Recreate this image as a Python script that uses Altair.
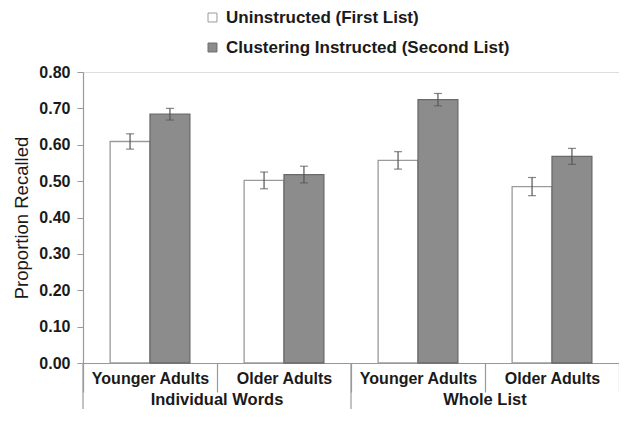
import altair as alt
import pandas as pd

# ---- data ----
outer_groups = ["Individual Words", "Individual Words", "Whole List", "Whole List"]
age_groups = ["Younger Adults", "Older Adults", "Younger Adults", "Older Adults"]
uninstructed = [0.609, 0.502, 0.557, 0.485]
uninstructed_err = [0.021, 0.023, 0.024, 0.025]
instructed = [0.684, 0.518, 0.724, 0.568]
instructed_err = [0.016, 0.023, 0.017, 0.022]
conditions = ["Uninstructed (First List)", "Clustering Instructed (Second List)"]
y_ticks = [0.0, 0.1, 0.2, 0.3, 0.4, 0.5, 0.6, 0.7, 0.8]

keys = [f"{o}|{a}" for o, a in zip(outer_groups, age_groups)]

rows = []
for k, v, e in zip(keys, uninstructed, uninstructed_err):
    rows.append({"key": k, "cond": conditions[0], "value": v, "lo": v - e, "hi": v + e})
for k, v, e in zip(keys, instructed, instructed_err):
    rows.append({"key": k, "cond": conditions[1], "value": v, "lo": v - e, "hi": v + e})
df = pd.DataFrame(rows)

outer_df = pd.DataFrame({
    "start": [keys[0], keys[2]],
    "label": [outer_groups[0], outer_groups[2]],
})

W = 536
H = 291
FONT = "Liberation Sans"

xscale = alt.Scale(domain=keys, paddingInner=0, paddingOuter=0)
offscale = alt.Scale(domain=conditions, paddingInner=0, paddingOuter=0.68)
yscale = alt.Scale(domain=[0, 0.8], nice=False, zero=True)

x_axis = alt.Axis(
    labelExpr="split(datum.value, '|')[1]",
    labelAngle=0, labelFont=FONT, labelFontSize=16, labelFontWeight="bold",
    labelColor="#1a1a1a", labelPadding=-22, labelBaseline="top",
    tickBand="extent", tickSize=29, tickColor="#999999", tickWidth=1.2,
    domainColor="#999999", domainWidth=1.2, grid=False,
)

y_axis = alt.Axis(
    values=y_ticks, format=".2f", title="Proportion Recalled",
    labelFont=FONT, labelFontSize=16, labelFontWeight="bold", labelColor="#1a1a1a",
    labelPadding=7, labelOverlap=False, tickSize=6, tickColor="#999999",
    domainColor="#999999", domainWidth=1.2, grid=False,
    titleFont=FONT, titleFontSize=18.5, titleFontWeight="normal", titleColor="#1a1a1a",
    titleAngle=-90, titleX=-62, titleY=H / 2, titleAlign="center", titleBaseline="middle",
)

color_fill = alt.Color(
    "cond:N", scale=alt.Scale(domain=conditions, range=["#ffffff", "#8c8c8c"]),
    legend=alt.Legend(
        title=None, orient="none", legendX=121, legendY=-63,
        symbolType="square", symbolSize=80, symbolStrokeWidth=1,
        labelFont=FONT, labelFontSize=17, labelFontWeight="bold", labelColor="#1a1a1a",
        labelOffset=5, rowPadding=12, labelLimit=400,
    ),
)
stroke_enc = alt.Stroke(
    "cond:N", scale=alt.Scale(domain=conditions, range=["#9a9a9a", "#6a6a6a"]),
    legend=None,
)

base = alt.Chart(df)
x_key = alt.X("key:N", scale=xscale, axis=x_axis, title=None)
off_enc = alt.XOffset("cond:N", scale=offscale)

bars = base.mark_bar(strokeWidth=1.3).encode(
    x=x_key,
    xOffset=off_enc,
    y=alt.Y("value:Q", scale=yscale, axis=y_axis, title="Proportion Recalled"),
    fill=color_fill,
    stroke=stroke_enc,
)

err = base.mark_rule(color="#555555", strokeWidth=1.2).encode(
    x=x_key, xOffset=off_enc,
    y=alt.Y("lo:Q", scale=yscale, axis=y_axis, title="Proportion Recalled"),
    y2="hi:Q",
)
cap_lo = base.mark_tick(color="#555555", thickness=1.2, size=8).encode(
    x=x_key, xOffset=off_enc,
    y=alt.Y("lo:Q", scale=yscale, axis=y_axis, title="Proportion Recalled"),
)
cap_hi = base.mark_tick(color="#555555", thickness=1.2, size=8).encode(
    x=x_key, xOffset=off_enc,
    y=alt.Y("hi:Q", scale=yscale, axis=y_axis, title="Proportion Recalled"),
)

outer_base = alt.Chart(outer_df)
outer_sep = outer_base.mark_rule(color="#999999", strokeWidth=1.2).encode(
    x=alt.X("start:N", scale=xscale, bandPosition=0, axis=x_axis, title=None),
    y=alt.value(H),
    y2=alt.value(H + 60),
)
outer_text = outer_base.mark_text(
    font=FONT, fontSize=16.5, fontWeight="bold", color="#1a1a1a", baseline="alphabetic"
).encode(
    x=alt.X("start:N", scale=xscale, bandPosition=1, axis=x_axis, title=None),
    y=alt.value(H + 42),
    text="label:N",
)

chart = alt.layer(bars, err, cap_lo, cap_hi, outer_sep, outer_text).properties(
    width=W, height=H,
    autosize=alt.AutoSizeParams(type="none"),
    padding={"left": 75, "top": 64, "right": 0, "bottom": 46},
).configure_view(stroke=None).configure(background="white")

chart.save("out.html", embed_options={"renderer": "svg", "actions": False})
